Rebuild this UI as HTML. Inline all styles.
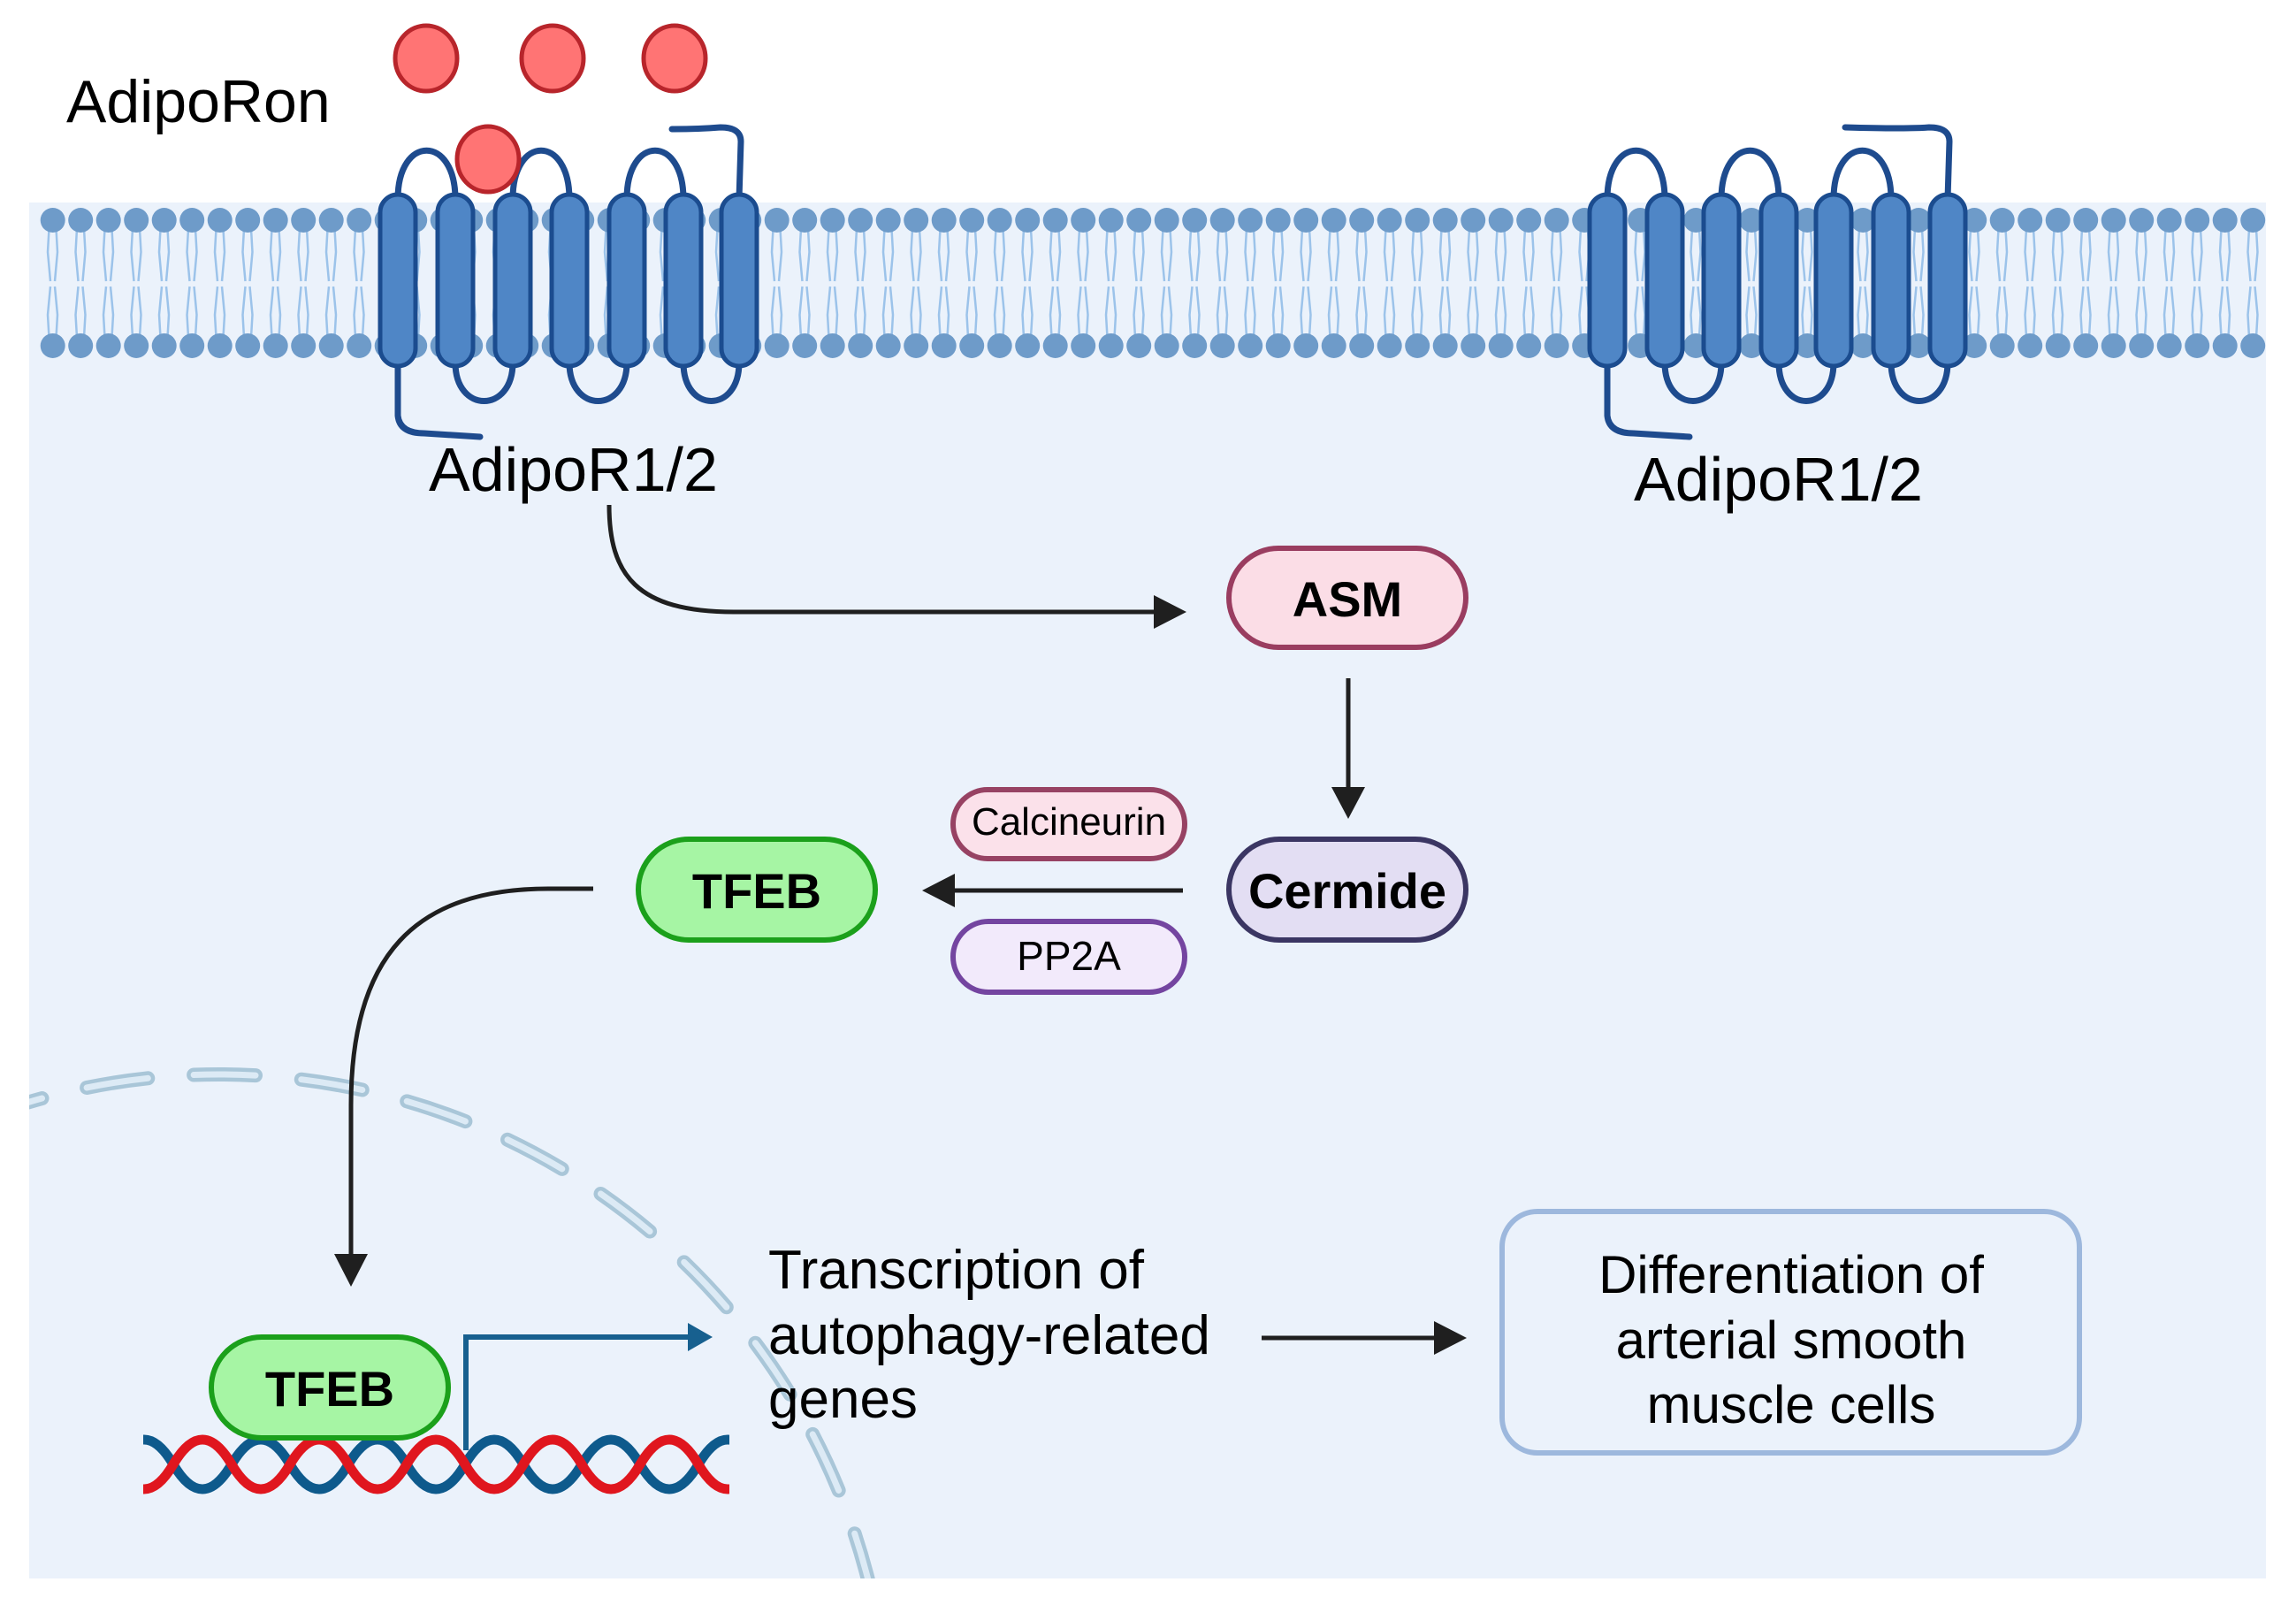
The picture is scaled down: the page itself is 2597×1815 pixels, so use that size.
<!DOCTYPE html>
<html><head><meta charset="utf-8"><style>
html,body{margin:0;padding:0;background:#fff;overflow:hidden;width:2597px;height:1815px;}
svg{display:block;}
text{font-family:"Liberation Sans",Arial,sans-serif;}
</style></head><body>
<svg width="2597" height="1815" viewBox="0 0 2597 1815" xmlns="http://www.w3.org/2000/svg">
<defs>
<pattern id="lip" patternUnits="userSpaceOnUse" x="44" y="0" width="31.5" height="1815">
 <g stroke="#9CC3EA" stroke-width="2.5" fill="none">
  <path d="M12,250 L10,285 L13,318"/><path d="M19,250 L21,285 L18,318"/>
  <path d="M13,324 L10,356 L12,390"/><path d="M18,324 L21,356 L19,390"/>
 </g>
 <circle cx="15.7" cy="249" r="14" fill="#6E9BC9"/>
 <circle cx="15.7" cy="391" r="14" fill="#6E9BC9"/>
</pattern>
<clipPath id="bgclip"><rect x="33" y="229" width="2530" height="1556"/></clipPath>
<clipPath id="dnaclip"><rect x="162" y="1600" width="663" height="120"/></clipPath>
</defs>
<rect x="33" y="229" width="2530" height="1556" fill="#EBF2FB"/>
<rect x="44" y="232" width="2520" height="176" fill="url(#lip)"/>

<g clip-path="url(#bgclip)" fill="none" stroke-linecap="round">
 <circle cx="248" cy="1972" r="757" stroke="#A9C6D8" stroke-width="16" stroke-dasharray="70 52"/>
 <circle cx="248" cy="1972" r="757" stroke="#DCEAF5" stroke-width="7" stroke-dasharray="70 52"/>
</g>

<g fill="none" stroke="#1E4B8E" stroke-width="7" stroke-linecap="round">
 <path d="M450,225 C450,152 515,152 515,225"/>
 <path d="M580,225 C580,152 644,152 644,225"/>
 <path d="M709,225 C709,152 773,152 773,225"/>
 <path d="M515,410 C515,468 580,468 580,410"/>
 <path d="M644,410 C644,468 709,468 709,410"/>
 <path d="M773,410 C773,468 836,468 836,410"/>
 <path d="M450,410 L450,470 Q452,490 480,490 L543,494"/>
 <path d="M836,225 L838,160 Q838,144 815,144 Q790,146 760,146"/>
 <path d="M1818,225 C1818,152 1883,152 1883,225"/>
 <path d="M1947,225 C1947,152 2012,152 2012,225"/>
 <path d="M2074,225 C2074,152 2139,152 2139,225"/>
 <path d="M1883,410 C1883,468 1947,468 1947,410"/>
 <path d="M2012,410 C2012,468 2074,468 2074,410"/>
 <path d="M2139,410 C2139,468 2203,468 2203,410"/>
 <path d="M1818,410 L1818,470 Q1820,490 1848,490 L1911,494"/>
 <path d="M2203,225 L2205,160 Q2205,144 2182,144 Q2157,146 2087,144"/>
</g>
<g fill="#4F86C6" stroke="#1B4C8F" stroke-width="5">
 <rect x="430" y="220" width="40" height="194" rx="20"/>
 <rect x="495" y="220" width="40" height="194" rx="20"/>
 <rect x="560" y="220" width="40" height="194" rx="20"/>
 <rect x="624" y="220" width="40" height="194" rx="20"/>
 <rect x="689" y="220" width="40" height="194" rx="20"/>
 <rect x="753" y="220" width="40" height="194" rx="20"/>
 <rect x="816" y="220" width="40" height="194" rx="20"/>
 <rect x="1798" y="220" width="40" height="194" rx="20"/>
 <rect x="1863" y="220" width="40" height="194" rx="20"/>
 <rect x="1927" y="220" width="40" height="194" rx="20"/>
 <rect x="1992" y="220" width="40" height="194" rx="20"/>
 <rect x="2054" y="220" width="40" height="194" rx="20"/>
 <rect x="2119" y="220" width="40" height="194" rx="20"/>
 <rect x="2183" y="220" width="40" height="194" rx="20"/>
</g>
<g fill="#FF7474" stroke="#B8252B" stroke-width="5">
 <ellipse cx="482" cy="66" rx="35" ry="37"/>
 <ellipse cx="625" cy="66" rx="35" ry="37"/>
 <ellipse cx="763" cy="66" rx="35" ry="37"/>
 <ellipse cx="552" cy="180" rx="35" ry="37"/>
</g>
<text x="75" y="138" font-size="68">AdipoRon</text>
<text x="485" y="555" font-size="70">AdipoR1/2</text>
<text x="1848" y="566" font-size="70">AdipoR1/2</text>

<g fill="none" stroke="#1f1f1f" stroke-width="5">
 <path d="M689,571 C689,650 720,692 830,692 L1310,692"/>
 <path d="M1525,767 L1525,900"/>
 <path d="M1338,1007 L1070,1007"/>
 <path d="M671,1005 L620,1005 C470,1005 397,1080 397,1250 L397,1425"/>
 <path d="M1427,1513 L1630,1513"/>
</g>
<g fill="#1f1f1f">
 <path d="M1305,673 L1342,692 L1305,711z"/>
 <path d="M1506,890 L1525,926 L1544,890z"/>
 <path d="M1080,988 L1043,1007 L1080,1026z"/>
 <path d="M378,1418 L397,1455 L416,1418z"/>
 <path d="M1622,1494 L1659,1513 L1622,1532z"/>
</g>

<rect x="1390" y="620" width="268" height="112" rx="56" fill="#FBDDE6" stroke="#9A3D60" stroke-width="6"/>
<text x="1524" y="697" font-size="56" font-weight="bold" text-anchor="middle">ASM</text>
<rect x="1390" y="949" width="268" height="114" rx="57" fill="#E3DEF3" stroke="#3B3663" stroke-width="6"/>
<text x="1524" y="1027" font-size="56" font-weight="bold" text-anchor="middle">Cermide</text>
<rect x="1078" y="893" width="262" height="78" rx="39" fill="#FBE1EA" stroke="#974263" stroke-width="6"/>
<text x="1209" y="944" font-size="44" text-anchor="middle">Calcineurin</text>
<rect x="1078" y="1042" width="262" height="80" rx="40" fill="#F2EAFB" stroke="#7445A0" stroke-width="6"/>
<text x="1209" y="1097" font-size="46" text-anchor="middle">PP2A</text>
<rect x="722" y="949" width="268" height="114" rx="57" fill="#A6F5A4" stroke="#1BA01B" stroke-width="6"/>
<text x="856" y="1027" font-size="56" font-weight="bold" text-anchor="middle">TFEB</text>

<g fill="none" stroke-width="11" clip-path="url(#dnaclip)">
 <path d="M130,1681 q33,-56 66,0 t66,0 t66,0 t66,0 t66,0 t66,0 t66,0 t66,0 t66,0 t66,0 t66,0 t66,0" stroke="#0E5A8C" transform="translate(0,-25)"/>
 <path d="M130,1631 q33,56 66,0 t66,0 t66,0 t66,0 t66,0 t66,0 t66,0 t66,0 t66,0 t66,0 t66,0 t66,0" stroke="#E0161E" transform="translate(0,25)"/>
</g>
<rect x="239" y="1512" width="268" height="114" rx="57" fill="#A6F5A4" stroke="#1BA01B" stroke-width="6"/>
<text x="373" y="1590" font-size="56" font-weight="bold" text-anchor="middle">TFEB</text>
<path d="M527,1640 L527,1512 L780,1512" fill="none" stroke="#17608F" stroke-width="6"/>
<path d="M778,1496 L806,1512 L778,1528z" fill="#17608F"/>

<text font-size="62"><tspan x="869" y="1457">Transcription of</tspan><tspan x="869" y="1531">autophagy-related</tspan><tspan x="869" y="1603">genes</tspan></text>

<rect x="1699" y="1370" width="653" height="273" rx="40" fill="#EBF2FB" stroke="#9DB8DD" stroke-width="6"/>
<text font-size="60" text-anchor="middle"><tspan x="2026" y="1462">Differentiation of</tspan><tspan x="2026" y="1536">arterial smooth</tspan><tspan x="2026" y="1609">muscle cells</tspan></text>
</svg>
</body></html>
